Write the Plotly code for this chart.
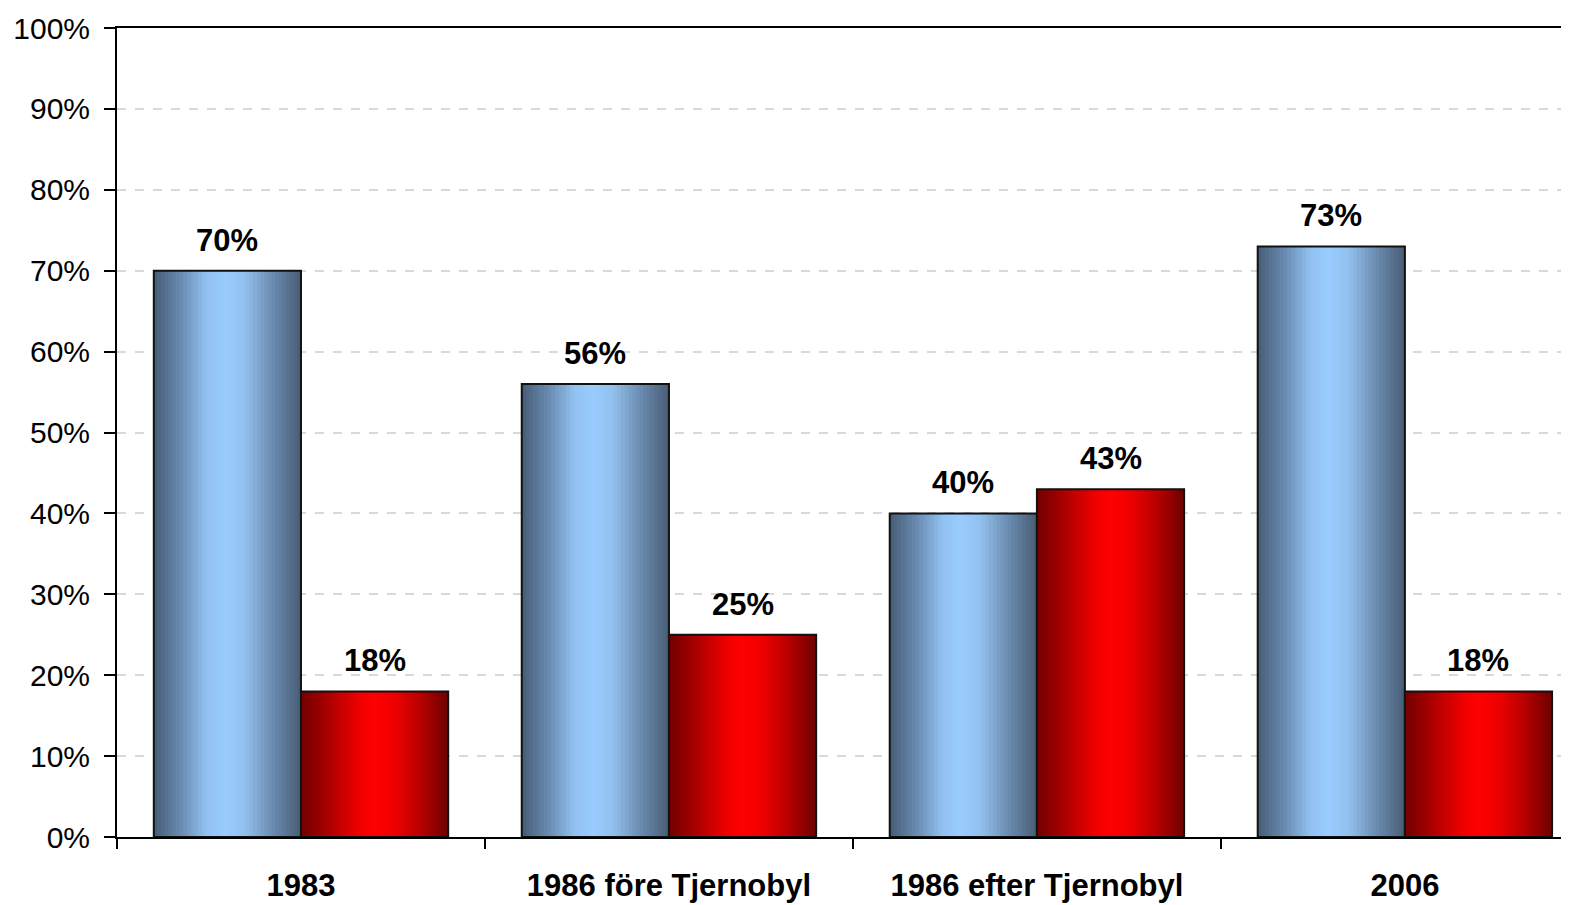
import plotly.graph_objects as go

categories = ["1983", "1986 före Tjernobyl", "1986 efter Tjernobyl", "2006"]
blue_values = [70, 56, 40, 73]
red_values = [18, 25, 43, 18]
y_ticks = list(range(0, 101, 10))

BAR_W = 0.4
N_SLICES = 40

blue_stops = [(0.0, (70, 92, 117)), (0.18, (104, 138, 176)), (0.36, (146, 194, 242)),
              (0.48, (153, 204, 255)), (0.62, (146, 192, 238)), (0.82, (104, 136, 172)),
              (1.0, (72, 92, 116))]
red_stops = [(0.0, (112, 0, 0)), (0.2, (176, 0, 0)), (0.4, (240, 0, 0)),
             (0.5, (255, 0, 0)), (0.65, (235, 0, 0)), (0.85, (170, 0, 0)),
             (1.0, (108, 0, 0))]


def grad(stops, t):
    for (p0, c0), (p1, c1) in zip(stops[:-1], stops[1:]):
        if p0 <= t <= p1:
            f = (t - p0) / (p1 - p0) if p1 > p0 else 0
            c = [round(a + (b - a) * f) for a, b in zip(c0, c1)]
            return "rgb(%d,%d,%d)" % tuple(c)
    return "rgb(%d,%d,%d)" % stops[-1][1]


fig = go.Figure()

for values, stops, base in [(blue_values, blue_stops, -BAR_W), (red_values, red_stops, 0.0)]:
    for k in range(N_SLICES):
        start = k * BAR_W / N_SLICES
        t = (k + 0.5) / N_SLICES
        fig.add_trace(go.Bar(
            x=categories, y=values,
            offset=base + start, width=BAR_W - start,
            marker=dict(color=grad(stops, t), line=dict(width=0)),
            showlegend=False, hoverinfo="skip"))
    fig.add_trace(go.Bar(
        x=categories, y=values, offset=base, width=BAR_W,
        marker=dict(color="rgba(0,0,0,0)", line=dict(color="#111111", width=2)),
        showlegend=False))

# data labels (x given as category index so numeric-looking names are not misread)
for values, center in [(blue_values, -BAR_W / 2), (red_values, BAR_W / 2)]:
    for i, v in enumerate(values):
        fig.add_annotation(
            x=i + center, y=v, xref="x", yref="y", text="<b>%d%%</b>" % v,
            showarrow=False, yanchor="bottom", yshift=11,
            font=dict(family="Liberation Sans, Arial", size=31, color="black"))

fig.update_layout(
    width=1561, height=897,
    margin=dict(l=109, r=0, t=20, b=68),
    barmode="overlay",
    plot_bgcolor="white", paper_bgcolor="white",
    font=dict(family="Liberation Sans, Arial", color="black"),
)
fig.update_xaxes(
    type="category", range=[-0.5, 3.446], automargin=False,
    showline=True, linecolor="black", linewidth=2, mirror=True,
    ticks="outside", tickson="boundaries", ticklen=10, tickwidth=2, tickcolor="black",
    showgrid=False, ticklabelstandoff=20,
    tickfont=dict(family="Liberation Sans, Arial", size=31, color="black", weight="bold"),
)
fig.update_yaxes(
    range=[0, 100], tickvals=y_ticks, ticktext=["%d%%" % v for v in y_ticks],
    automargin=False,
    showline=True, linecolor="black", linewidth=2,
    ticks="outside", ticklen=11, tickwidth=2, tickcolor="black",
    showgrid=True, gridcolor="#d9d9d9", gridwidth=1.5, griddash="dash",
    zeroline=False, ticklabelstandoff=8,
    tickfont=dict(family="Liberation Sans, Arial", size=30, color="black"),
)

fig.write_html("out.html")
